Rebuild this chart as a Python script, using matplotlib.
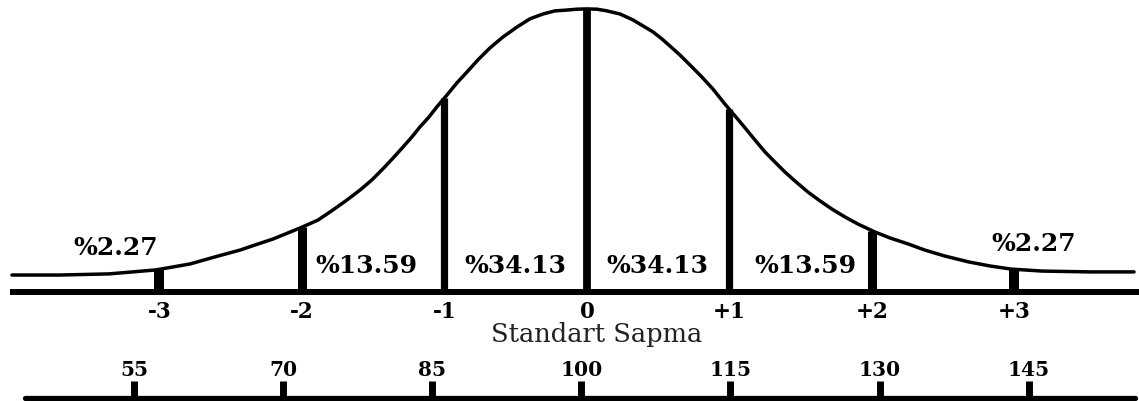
import numpy as np
import matplotlib
matplotlib.use("Agg")
import matplotlib.pyplot as plt

# ---- data ----
# drawn normal curve: x in standard-deviation units, height relative to peak
curve_sd = [-4.035, -3.698, -3.354, -3.025, -2.786, -2.589, -2.435, -2.330, -2.204,
            -2.014, -1.888, -1.782, -1.684, -1.593, -1.509, -1.432, -1.361, -1.291,
            -1.228, -1.172, -1.109, -1.053, -0.982, -0.912, -0.842, -0.765, -0.681,
            -0.589, -0.491, -0.400, -0.309, -0.225, -0.140, -0.070, 0.000, 0.070,
            0.140, 0.232, 0.323, 0.393, 0.463, 0.526, 0.582, 0.653, 0.723, 0.800,
            0.884, 0.968, 1.039, 1.109, 1.179, 1.249, 1.319, 1.389, 1.467, 1.551,
            1.635, 1.719, 1.811, 1.902, 2.021, 2.126, 2.253, 2.372, 2.512, 2.681,
            2.828, 2.975, 3.193, 3.530, 3.839]
curve_h = [0.060, 0.060, 0.064, 0.078, 0.099, 0.127, 0.148, 0.166, 0.187,
           0.226, 0.254, 0.290, 0.325, 0.360, 0.396, 0.435, 0.473, 0.512,
           0.548, 0.583, 0.618, 0.654, 0.696, 0.739, 0.777, 0.820, 0.862,
           0.901, 0.936, 0.965, 0.982, 0.993, 0.996, 0.999, 1.000, 0.999,
           0.993, 0.982, 0.961, 0.940, 0.919, 0.894, 0.869, 0.837, 0.802, 0.763,
           0.717, 0.664, 0.622, 0.580, 0.537, 0.495, 0.459, 0.424, 0.389, 0.353,
           0.322, 0.293, 0.265, 0.240, 0.212, 0.191, 0.170, 0.148, 0.127, 0.106,
           0.092, 0.081, 0.074, 0.071, 0.071]

sd_ticks = [-3, -2, -1, 0, 1, 2, 3]
sd_tick_labels = ["-3", "-2", "-1", "0", "+1", "+2", "+3"]

pct_labels = ["%2.27", "%13.59", "%34.13", "%34.13", "%13.59", "%2.27"]

iq_ticks = [55, 70, 85, 100, 115, 130, 145]
iq_tick_labels = ["55", "70", "85", "100", "115", "130", "145"]

axis_title = "Standart Sapma"

# ---- figure ----
fig = plt.figure(figsize=(11.39, 4.02), dpi=100)
ax = fig.add_axes([0, 0, 1, 1])
ax.set_xlim(-4.119, 3.874)
ax.set_ylim(-0.385, 1.035)
ax.axis("off")

FS = "DejaVu Serif"

# baseline axis
ax.plot([-4.05, 3.874], [0, 0], color="black", lw=4.3, solid_capstyle="butt")
# curve
ax.plot(curve_sd, curve_h, color="black", lw=2.5, solid_joinstyle="round",
        solid_capstyle="round")

# vertical lines up to the curve
tops = np.interp(sd_ticks, curve_sd, curve_h)
widths = [7.2, 6.5, 5.2, 5.6, 5.2, 6.5, 7.2]
ax.vlines(sd_ticks, 0, tops, colors="black", linewidths=widths)

# tick labels
for s, lab in zip(sd_ticks, sd_tick_labels):
    ax.text(s, -0.088, lab, ha="center", va="baseline", fontsize=15.5,
            fontweight="bold", family=FS, color="black")

ax.text(0.07, -0.173, axis_title, ha="center", va="baseline", fontsize=18.5,
        family=FS, color="#222222")

# percentage labels
pct_x = [-3.305, -1.544, -0.505, 0.491, 1.530, 3.137]
pct_y = [0.134, 0.0707, 0.0707, 0.0707, 0.0707, 0.148]
for x, y, lab in zip(pct_x, pct_y, pct_labels):
    ax.text(x, y, lab, ha="center", va="baseline", fontsize=18,
            fontweight="bold", family=FS, color="black")

# ---- IQ scale ----
ax2 = fig.add_axes([0, 0, 1, 1])
ax2.patch.set_alpha(0)
ax2.set_xlim(41.51, 156.10)
ax2.set_ylim(-0.385, 1.035)
ax2.axis("off")
ax2.plot([44.0, 155.7], [-0.3746, -0.3746], color="black", lw=3.8,
         solid_capstyle="round")
ax2.vlines(iq_ticks, -0.3746, -0.3145, colors="black", linewidths=5.0)
for v, lab in zip(iq_ticks, iq_tick_labels):
    ax2.text(v, -0.293, lab, ha="center", va="baseline", fontsize=14.5,
             fontweight="bold", family=FS, color="black")

fig.savefig("out.png", dpi=100)
